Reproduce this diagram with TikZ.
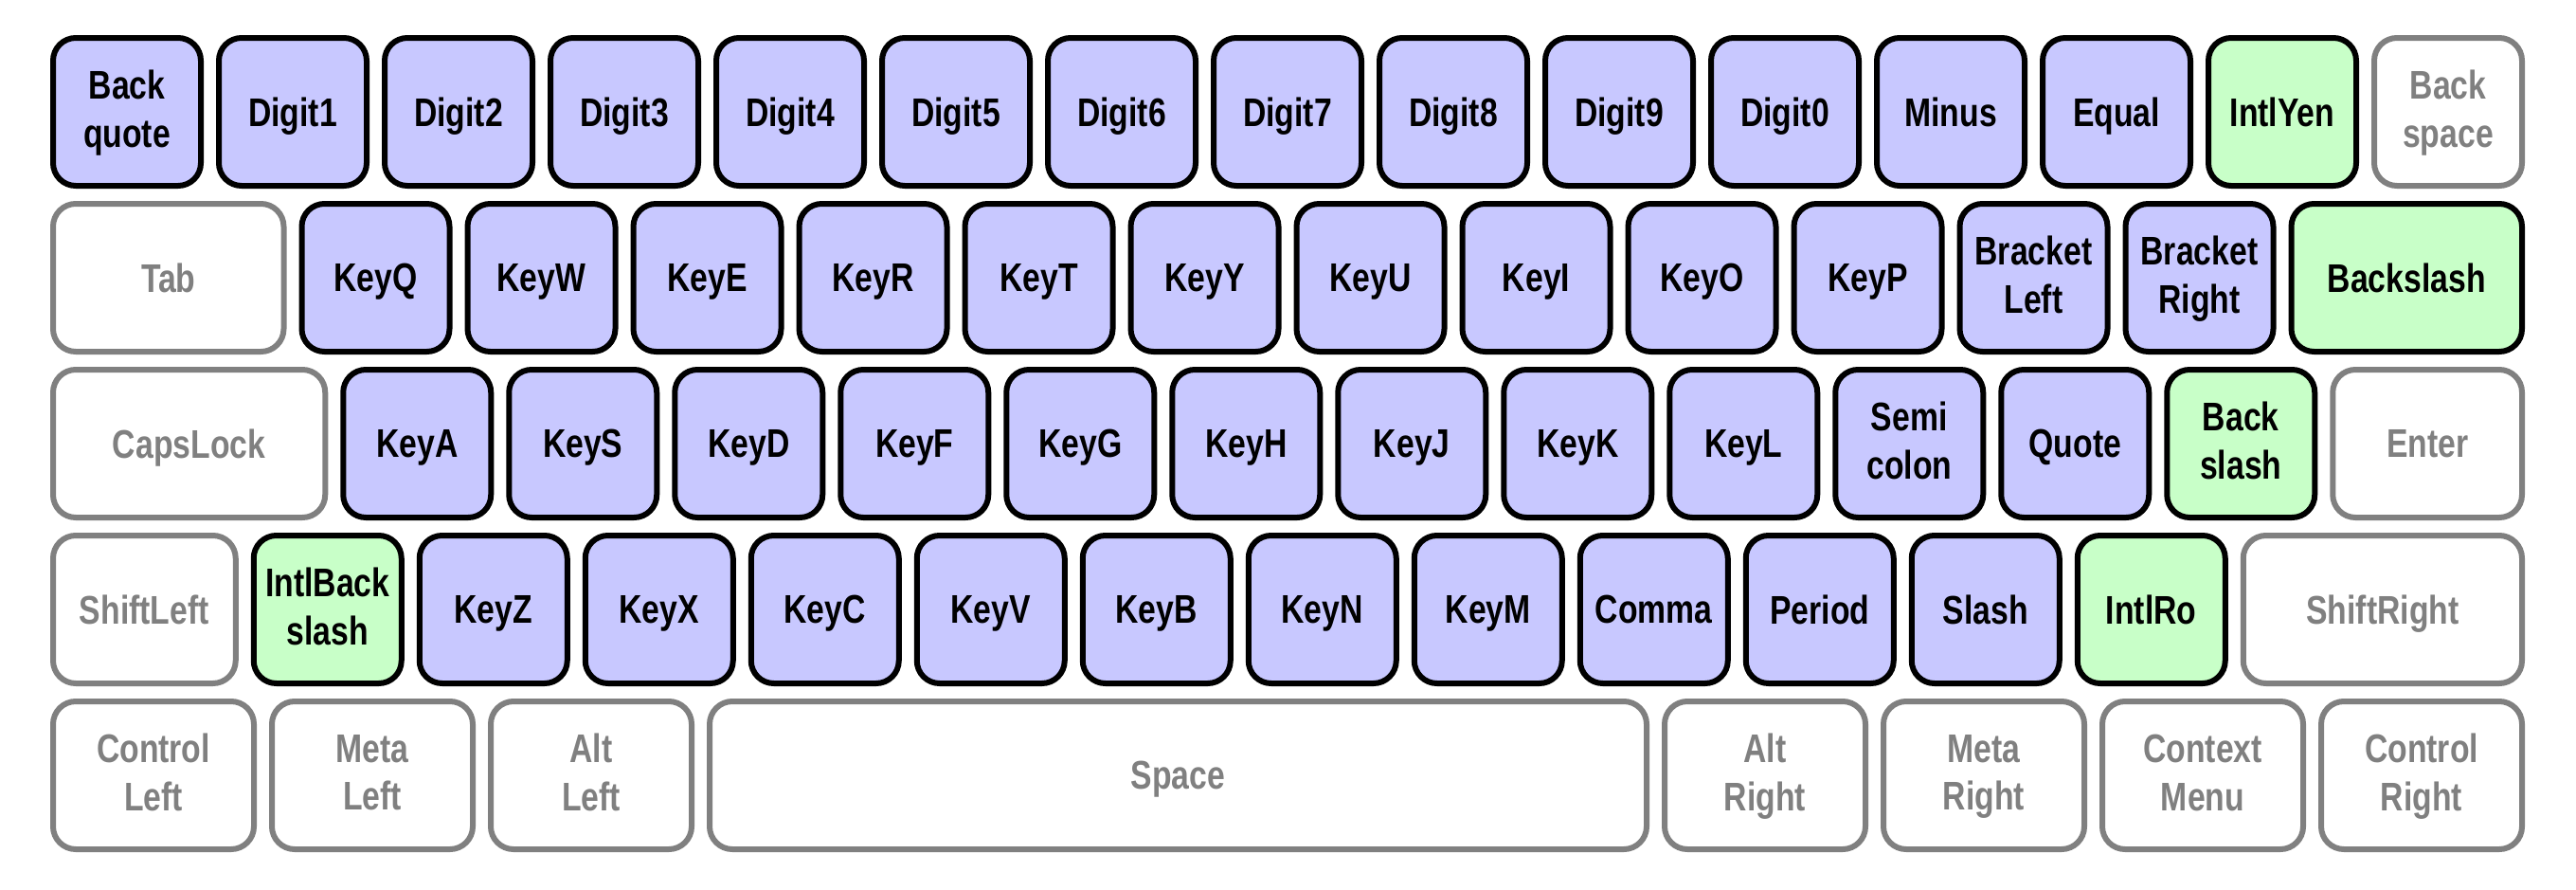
\documentclass[tikz,border=0pt]{standalone}
\usepackage{fontspec}
\setmainfont{Liberation Sans}[FakeStretch=0.8]
\usepackage{tikz}
\usetikzlibrary{positioning}
\definecolor{KeyBlue}{HTML}{C8C8FF}
\definecolor{KeyGreen}{HTML}{C8FFC8}
\definecolor{KeyGray}{HTML}{808080}

\begin{document}
\begin{tikzpicture}[
    font=\fontsize{12}{14.5}\selectfont\bfseries,
    % one key = 17.5mm pitch, 1.3mm gap
    keybase/.style={rounded corners=2.4mm, line width=0.6mm, align=center, inner sep=0pt, text depth=0pt, minimum height=15.6mm, minimum width=15.6mm},
    keyw/.style={minimum width=#1*17.5mm-1.9mm},
    twoline/.style={text depth=0.6mm},
    letterkey/.style={keybase, draw=black, fill=KeyBlue},
    intlkey/.style={keybase, draw=black, fill=KeyGreen},
    modkey/.style={keybase, draw=KeyGray, text=KeyGray, fill=white}
]
\useasboundingbox (0,0) rectangle (271.9mm,-93.8mm);

% row 1
\node[letterkey, twoline, anchor=north west] (Backquote) at (5.3mm,-3.7mm) {Back\\quote};
\foreach \n [remember=\n as \p (initially Backquote)] in {Digit1,Digit2,Digit3,Digit4,Digit5,Digit6,Digit7,Digit8,Digit9,Digit0,Minus,Equal}
    \node[letterkey, right=1.3mm of \p] (\n) {\n};
\node[intlkey, right=1.3mm of Equal] (IntlYen) {IntlYen};
\node[modkey, twoline, right=1.3mm of IntlYen] (Backspace) {Back\\space};

% row 2
\node[modkey, keyw=1.5, below right=1.3mm and 0mm of Backquote.south west] (Tab) {Tab};
\foreach \n [remember=\n as \p (initially Tab)] in {KeyQ,KeyW,KeyE,KeyR,KeyT,KeyY,KeyU,KeyI,KeyO,KeyP}
    \node[letterkey, right=1.3mm of \p] (\n) {\n};
\node[letterkey, twoline, right=1.3mm of KeyP] (BracketLeft) {Bracket\\Left};
\node[letterkey, twoline, right=1.3mm of BracketLeft] (BracketRight) {Bracket\\Right};
\node[intlkey, keyw=1.5, right=1.3mm of BracketRight] (Backslash) {Backslash};

% row 3
\node[modkey, keyw=1.75, below right=1.3mm and 0mm of Tab.south west] (CapsLock) {CapsLock};
\foreach \n [remember=\n as \p (initially CapsLock)] in {KeyA,KeyS,KeyD,KeyF,KeyG,KeyH,KeyJ,KeyK,KeyL}
    \node[letterkey, right=1.3mm of \p] (\n) {\n};
\node[letterkey, twoline, right=1.3mm of KeyL] (Semicolon) {Semi\\colon};
\node[letterkey, right=1.3mm of Semicolon] (Quote) {Quote};
\node[intlkey, twoline, right=1.3mm of Quote] (BackslashIso) {Back\\slash};
\node[modkey, keyw=1.25, right=1.3mm of BackslashIso] (Enter) {Enter};

% row 4
\node[modkey, keyw=1.21, below right=1.3mm and 0mm of CapsLock.south west] (ShiftLeft) {ShiftLeft};
\node[intlkey, twoline, right=1.3mm of ShiftLeft] (IntlBackslash) {IntlBack\\slash};
\foreach \n [remember=\n as \p (initially IntlBackslash)] in {KeyZ,KeyX,KeyC,KeyV,KeyB,KeyN,KeyM,Comma,Period,Slash}
    \node[letterkey, right=1.3mm of \p] (\n) {\n};
\node[intlkey, right=1.3mm of Slash] (IntlRo) {IntlRo};
\node[modkey, keyw=1.79, right=1.3mm of IntlRo] (ShiftRight) {ShiftRight};

% row 5
\node[modkey, twoline, keyw=1.32, below right=1.3mm and 0mm of ShiftLeft.south west] (ControlLeft) {Control\\Left};
\node[modkey, twoline, keyw=1.32, right=1.3mm of ControlLeft] (MetaLeft) {Meta\\Left};
\node[modkey, twoline, keyw=1.32, right=1.3mm of MetaLeft] (AltLeft) {Alt\\Left};
\node[modkey, keyw=5.76, right=1.3mm of AltLeft] (Space) {Space};
\node[modkey, twoline, keyw=1.32, right=1.3mm of Space] (AltRight) {Alt\\Right};
\node[modkey, twoline, keyw=1.32, right=1.3mm of AltRight] (MetaRight) {Meta\\Right};
\node[modkey, twoline, keyw=1.32, right=1.3mm of MetaRight] (ContextMenu) {Context\\Menu};
\node[modkey, twoline, keyw=1.32, right=1.3mm of ContextMenu] (ControlRight) {Control\\Right};

\end{tikzpicture}
\end{document}
